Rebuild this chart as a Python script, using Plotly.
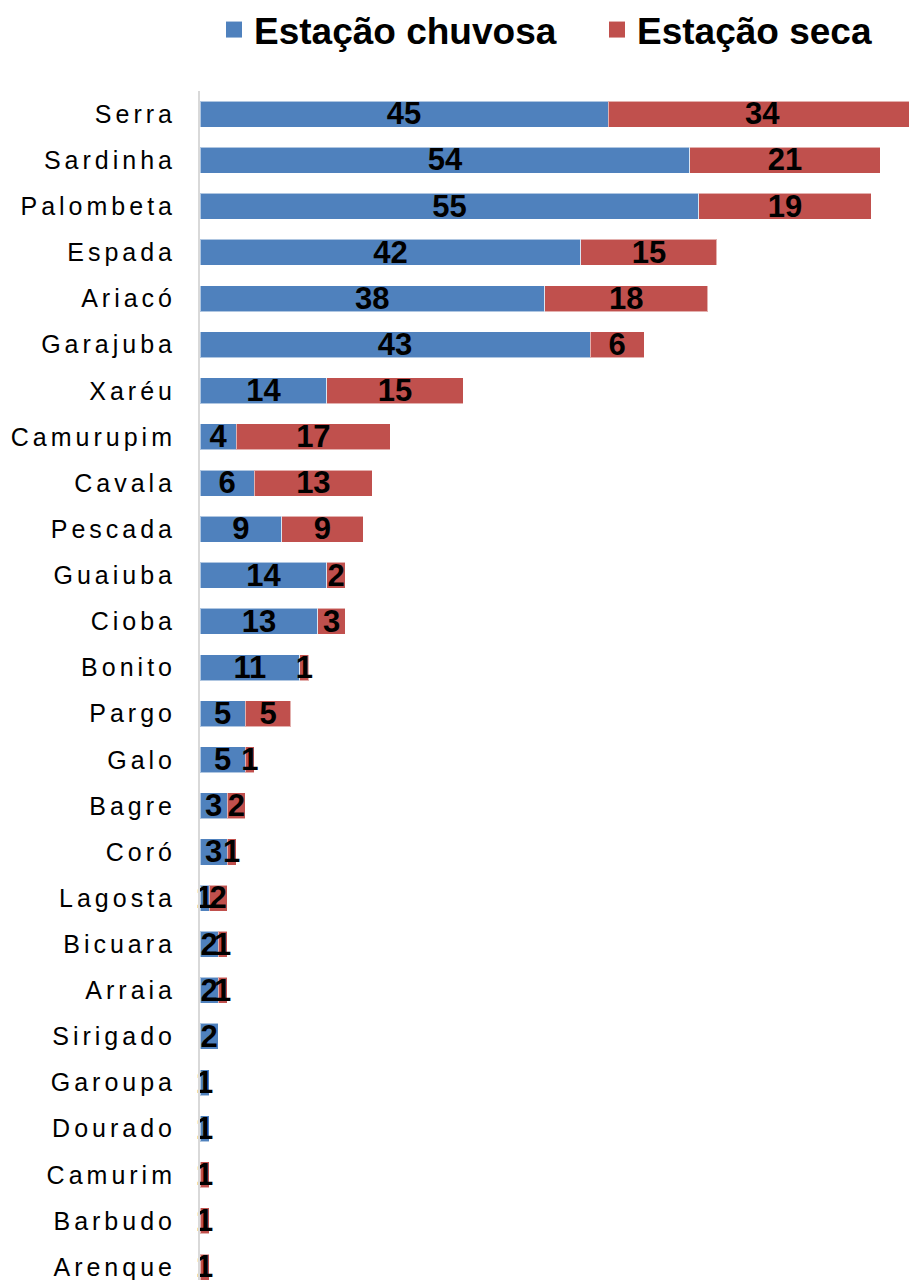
import plotly.graph_objects as go

# Species, top to bottom
especies = ["Serra", "Sardinha", "Palombeta", "Espada", "Ariacó", "Garajuba", "Xaréu",
            "Camurupim", "Cavala", "Pescada", "Guaiuba", "Cioba", "Bonito", "Pargo",
            "Galo", "Bagre", "Coró", "Lagosta", "Bicuara", "Arraia", "Sirigado",
            "Garoupa", "Dourado", "Camurim", "Barbudo", "Arenque"]
# Counts per season
chuvosa = [45, 54, 55, 42, 38, 43, 14, 4, 6, 9, 14, 13, 11, 5, 5, 3, 3, 1, 2, 2, 2, 1, 1, 0, 0, 0]
seca = [34, 21, 19, 15, 18, 6, 15, 17, 13, 9, 2, 3, 1, 5, 1, 2, 1, 2, 1, 1, 0, 0, 0, 1, 1, 1]

AZUL = "#4F81BD"
VERMELHO = "#C0504D"
FONTE = "Liberation Sans"


def rotulos(valores):
    return [str(v) if v else "" for v in valores]


fonte_legenda = dict(family=FONTE, size=37, color="black", weight="bold")
fonte_rotulo = dict(family=FONTE, size=31, color="black", weight="bold")

fig = go.Figure()

# stacked bars
for nome, valores, cor in [("Estação chuvosa", chuvosa, AZUL), ("Estação seca", seca, VERMELHO)]:
    fig.add_trace(go.Bar(
        name=nome, y=especies, x=valores, orientation="h", showlegend=False,
        marker=dict(color=cor, line=dict(color="rgba(255,255,255,0.55)", width=1)),
    ))

# value labels centred on each segment, drawn above all bars
# (on an overlaid category axis nudged so the digits sit optically centred)
centro_chuvosa = [c / 2 for c in chuvosa]
centro_seca = [c + s / 2 for c, s in zip(chuvosa, seca)]
for centros, valores in [(centro_chuvosa, chuvosa), (centro_seca, seca)]:
    fig.add_trace(go.Scatter(
        x=centros, y=especies, yaxis="y2", mode="text", text=rotulos(valores),
        textposition="middle center", textfont=fonte_rotulo,
        cliponaxis=False, showlegend=False, hoverinfo="skip",
    ))

# legend entries, one legend per season so each can be placed freely
for nome, cor, legenda in [("Estação chuvosa", AZUL, "legend"), ("Estação seca", VERMELHO, "legend2")]:
    fig.add_trace(go.Scatter(
        x=[None], y=[None], mode="markers", name=nome, legend=legenda,
        marker=dict(symbol="square", size=16, color=cor),
    ))

faixa_y = [25.28, -0.5]
ajuste = 0.055

fig.update_layout(
    width=909, height=1280,
    barmode="stack", bargap=0.436,
    margin=dict(l=200, r=0, t=91, b=0),
    plot_bgcolor="white", paper_bgcolor="white",
    font=dict(family=FONTE, color="black"),
    legend=dict(orientation="h", xref="container", yref="container",
                x=214 / 909, xanchor="left", y=1 - 30 / 1280, yanchor="middle",
                font=fonte_legenda, bgcolor="rgba(0,0,0,0)"),
    legend2=dict(orientation="h", xref="container", yref="container",
                 x=597 / 909, xanchor="left", y=1 - 30 / 1280, yanchor="middle",
                 font=fonte_legenda, bgcolor="rgba(0,0,0,0)"),
    xaxis=dict(range=[0, 78.17], visible=False, fixedrange=True),
    yaxis=dict(range=faixa_y, showgrid=False, ticks="", showline=True,
               linecolor="#D9D9D9", linewidth=2, ticklabelstandoff=17,
               categoryorder="array", categoryarray=especies,
               tickfont=dict(family=FONTE, size=25, color="black")),
    yaxis2=dict(overlaying="y", visible=False, showgrid=False,
                categoryorder="array", categoryarray=especies,
                range=[faixa_y[0] - ajuste, faixa_y[1] - ajuste]),
)

espacamento = """
document.querySelectorAll('.ytick text').forEach(function(t){ t.style.letterSpacing = '4px'; });
"""
fig.write_html("out.html", post_script=espacamento)
